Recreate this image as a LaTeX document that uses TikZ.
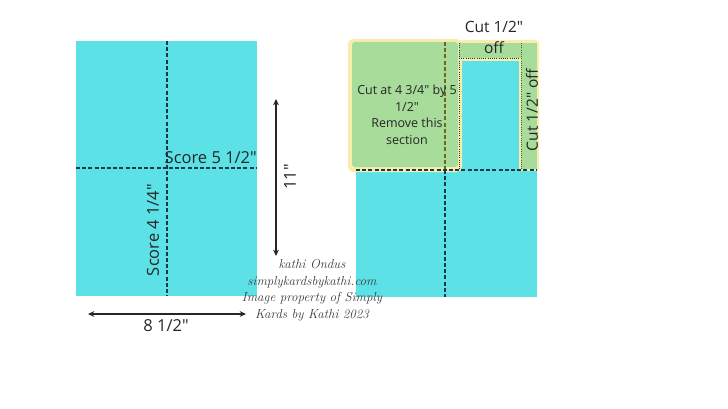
\documentclass[tikz,border=0pt]{standalone}
\usepackage{fontspec}
\newfontfamily\labelfont{Open Sans}
\usepackage{xcolor}
\usetikzlibrary{arrows.meta,positioning}
\definecolor{cardcyan}{HTML}{5CE1E6}
\definecolor{cutgreen}{HTML}{A8DC9A}
\definecolor{hiyellow}{HTML}{F8EDAE}
\definecolor{scoreline}{HTML}{17394A}
\definecolor{markgray}{HTML}{3A3A3A}

\begin{document}
\begin{tikzpicture}[
    x=1pt, y=-1pt,
    paper/.style={fill=cardcyan, draw=none, minimum width=181pt, minimum height=255pt, anchor=north west, inner sep=0},
    scoreln/.style={draw=scoreline, line width=1.2pt, dash pattern=on 4pt off 2.2pt},
    cutln/.style={draw=scoreline, line width=1pt, dash pattern=on 1pt off 1.2pt},
    big/.style={font=\labelfont\fontsize{16.5}{18}\selectfont, text=black!85, inner sep=0},
    mid/.style={font=\labelfont\fontsize{15.5}{21}\selectfont, text=black!85, inner sep=0, align=center},
    small/.style={font=\labelfont\fontsize{12.5}{16.5}\selectfont, text=black!85, inner sep=0, align=center},
    dim/.style={{Stealth[length=2.2mm,width=2mm]}-{Stealth[length=2.2mm,width=2mm]}, line width=1.3pt, black!85}
]
\useasboundingbox (0,0) rectangle (728,409);

% left sheet, scored
\node[paper] (sheet) at (76,41) {};
\coordinate (vtop) at (167,41);
\coordinate (vbot) at (167,296);
\coordinate (hleft) at (76,168);
\coordinate (hright) at (257,168);
\draw[scoreln] (vtop) -- (vbot);
\draw[scoreln] (hleft) -- (hright);
\node[big, anchor=base east] (scoreh) at (257,163) {Score 5 1/2"};
\node[big, rotate=90] (scorev) at (153,230) {Score 4 1/4"};

% dimensions
\coordinate (htop) at (276,99);
\coordinate (hbot) at (276,256);
\draw[dim] (htop) -- (hbot);
\node[big, rotate=90] (eleven) at (290,177) {11"};
\coordinate (wleft) at (88,314);
\coordinate (wright) at (246,314);
\draw[dim] (wleft) -- (wright);
\node[big] (width) at (166,326) {8 1/2"};

% right sheet, cut
\node[paper] (card) at (356,42) {};
\fill[hiyellow, rounded corners=5pt] (348,39) rectangle (462,172);
\fill[hiyellow, rounded corners=4pt] (459,40) rectangle (539,61);
\fill[hiyellow, rounded corners=3pt] (519,40) rectangle (539,171);
\fill[cutgreen, rounded corners=3pt] (352,42) rectangle (458,167);
\fill[cutgreen] (459,43) rectangle (521,58);
\fill[cutgreen] (521,43) rectangle (537,169);
\coordinate (ctop) at (445,42);
\coordinate (cmid) at (445,170);
\coordinate (cbot) at (445,297);
\coordinate (cleft) at (356,170);
\coordinate (cright) at (537,170);
\draw[scoreln, draw=olive!70!black] (ctop) -- (cmid);
\draw[scoreln] (cmid) -- (cbot);
\draw[scoreln] (cleft) -- (cright);
\coordinate (d1) at (459,43);
\coordinate (d2) at (459,170);
\coordinate (d3) at (459,59);
\coordinate (d4) at (521,59);
\coordinate (d5) at (521,43);
\coordinate (d6) at (521,170);
\draw[cutln] (d1) -- (d2);
\draw[cutln] (d3) -- (d4);
\draw[cutln, draw=olive!60!black] (d5) -- (d6);

\node[small] (remove) at (407,115) {Cut at 4 3/4" by 5\\1/2"\\Remove this\\section};
\node[mid] (topcut) at (494,37) {Cut 1/2"\\off};
\node[mid, rotate=90] (sidecut) at (532,110) {Cut 1/2" off};

% watermark
\node[font=\itshape\fontsize{13}{16.5}\selectfont, text=markgray, align=center, inner sep=0] (mark) at (312,290)
  {kathi Ondus\\simplykardsbykathi.com\\Image property of Simply\\Kards by Kathi 2023};
\end{tikzpicture}
\end{document}
